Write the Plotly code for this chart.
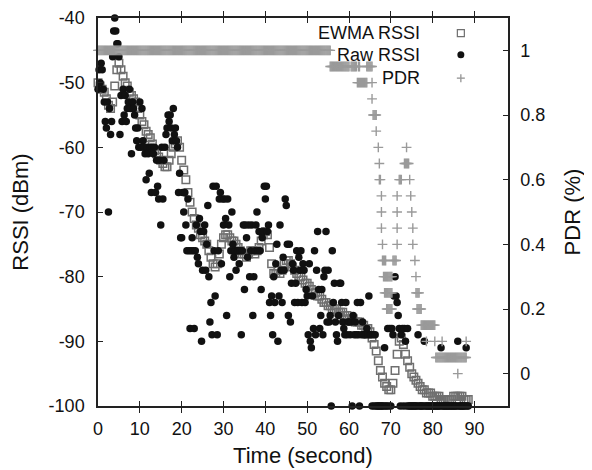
import numpy as np
import plotly.graph_objects as go

# ---------------- data ----------------
# EWMA RSSI, sampled every 0.5 s from t = 0 to 88.5 s
ewma_step = 0.5
ewma_rssi = [
    -50, -50.5, -51, -51.5, -52.5, -53.5, -54, -53, -50.5, -48,
    -47, -48, -49, -50, -50.5, -51.5, -52, -52.5, -53, -54,
    -55, -56, -56.5, -57.5, -58, -58.5, -59.5, -60.5, -61, -61.5,
    -62, -62.5, -63, -63, -62, -61, -60, -59.5, -59, -60,
    -62, -63.5, -65, -67, -68.5, -70, -71, -72, -72.5, -73.5,
    -74, -74.5, -75, -76, -77, -78, -78.5, -78, -76.5, -75,
    -74, -73.5, -73.5, -74, -74.5, -74.5, -75, -75.5, -76, -76.5,
    -76.5, -77, -76.5, -76, -76, -76.5, -76, -75.5, -74.5, -73.5,
    -73, -73.5, -75.5, -78, -79.5, -79.5, -79, -79.5, -79, -78,
    -77.5, -77.5, -78, -78.5, -79, -79.5, -80, -80, -80.5, -81,
    -81, -81.5, -82, -82.5, -82.5, -83, -83, -83.5, -84, -84,
    -84.5, -84.5, -85, -85, -85, -85.5, -85.5, -85.5, -86, -86,
    -86.5, -86.5, -86.5, -87, -87, -87, -87.5, -87.5, -88, -88,
    -88.5, -89.5, -90.5, -91.5, -93, -94.5, -95.5, -96.5, -97, -97.5,
    -97.5, -96.5, -94.5, -92, -90, -89.5, -90.5, -92, -93, -94,
    -95, -95.5, -96, -96.5, -97, -97.5, -97.5, -98, -98, -98,
    -98.5, -98.5, -98.5, -98.5, -99, -99, -99, -99, -99, -99,
    -98.5, -98.5, -98.5, -98.5, -98.5, -99, -99, -99,
]

# Raw RSSI, sampled every 0.25 s from t = 0 to 88.5 s (one row = 5 s)
raw_step = 0.25
raw_rssi = [
    -51, -48, -50, -47, -48, -51, -53, -56, -57, -53, -70, -54, -58, -56, -46, -42, -40, -42, -44, -44,
    -46, -58, -52, -56, -51, -55, -52, -56, -54, -53, -51, -54, -61, -53, -54, -55, -57, -59, -57, -60,
    -53, -60, -54, -59, -60, -61, -65, -60, -61, -64, -60, -67, -60, -61, -60, -67, -62, -66, -68, -62,
    -72, -60, -68, -62, -60, -58, -57, -55, -56, -55, -57, -59, -54, -58, -57, -59, -60, -67, -64, -74,
    -74, -67, -70, -67, -72, -76, -68, -76, -88, -76, -74, -76, -88, -76, -72, -77, -78, -71, -73, -90,
    -79, -73, -72, -79, -75, -69, -80, -87, -84, -89, -66, -76, -83, -66, -89, -76, -68, -67, -78, -68,
    -72, -68, -71, -86, -68, -72, -80, -76, -70, -75, -77, -76, -79, -76, -76, -78, -76, -89, -76, -72,
    -82, -72, -74, -77, -72, -80, -76, -72, -86, -80, -76, -72, -70, -76, -73, -76, -82, -74, -73, -66,
    -68, -66, -73, -72, -84, -86, -83, -89, -80, -84, -78, -75, -90, -83, -72, -79, -84, -77, -79, -68,
    -69, -75, -86, -75, -87, -81, -78, -79, -84, -81, -76, -84, -77, -79, -76, -84, -78, -79, -84, -82,
    -83, -89, -78, -90, -91, -83, -88, -76, -89, -79, -73, -82, -88, -86, -82, -89, -80, -79, -73, -87,
    -79, -87, -86, -100, -76, -84, -81, -87, -89, -90, -86, -81, -81, -84, -87, -88, -89, -84, -89, -87,
    -87, -89, -87, -100, -86, -89, -87, -89, -84, -89, -100, -84, -89, -87, -89, -89, -89, -88, -89, -83,
    -89, -89, -100, -89, -100, -89, -100, -100, -100, -100, -100, -100, -100, -100, -91, -100, -100, -88, -100, -88,
    -100, -88, -89, -83, -80, -83, -84, -86, -88, -100, -89, -88, -100, -88, -90, -100, -88, -100, -100, -100,
    -100, -100, -100, -100, -100, -100, -89, -100, -100, -100, -100, -100, -90, -100, -100, -100, -100, -100, -100, -100,
    -100, -100, -100, -100, -100, -100, -100, -100, -91, -100, -100, -100, -100, -100, -100, -100, -100, -100, -100, -100,
    -100, -100, -100, -100, -90, -100, -100, -100, -100, -100, -100, -100, -91, -100, -100,
]

# PDR readings as runs: (start time, end time, PDR value), sampled every 0.25 s
pdr_step = 0.25
pdr_runs = [
    (0.0, 55.5, 1.0),
    (55.5, 60.0, 0.95), (60.5, 61.75, 0.95), (62.25, 62.5, 0.95), (64.25, 65.5, 0.95),
    (62.0, 64.25, 0.9), (65.5, 65.5, 0.9),
    (65.5, 65.5, 0.85),
    (65.75, 66.5, 0.8),
    (66.5, 66.5, 0.75),
    (67.0, 67.0, 0.7),
    (67.25, 67.25, 0.65),
    (67.25, 67.5, 0.6),
    (67.75, 67.75, 0.55), (67.75, 67.75, 0.5), (67.75, 67.75, 0.45),
    (68.0, 68.0, 0.4),
    (68.0, 68.75, 0.35),
    (68.25, 70.25, 0.3),
    (68.5, 70.25, 0.25),
    (69.0, 70.25, 0.2),
    (70.5, 71.25, 0.35),
    (71.5, 71.5, 0.4), (71.5, 71.5, 0.45), (71.5, 71.5, 0.5), (71.5, 71.5, 0.55),
    (72.0, 72.5, 0.6),
    (73.25, 74.25, 0.65),
    (73.75, 73.75, 0.7),
    (74.5, 74.5, 0.6),
    (74.75, 74.75, 0.55),
    (75.0, 75.0, 0.5),
    (75.25, 75.25, 0.45), (75.25, 75.25, 0.4),
    (75.75, 75.75, 0.35),
    (76.0, 76.0, 0.3),
    (76.0, 76.75, 0.25),
    (76.25, 77.25, 0.2),
    (77.25, 80.5, 0.15),
    (78.5, 78.5, 0.1), (80.5, 80.5, 0.1), (82.25, 82.25, 0.1), (88.0, 88.0, 0.1),
    (80.75, 88.0, 0.05),
    (86.0, 86.0, 0.0),
]

x_ticks = [0, 10, 20, 30, 40, 50, 60, 70, 80, 90]
rssi_ticks = [-100, -90, -80, -70, -60, -50, -40]
rssi_tick_labels = ["-100", "-90", "-80", "-70", "-60", "-50", "-40"]
pdr_ticks = [0, 0.2, 0.4, 0.6, 0.8, 1]
pdr_tick_labels = ["0", "0.2", "0.4", "0.6", "0.8", "1"]

# ---------------- build series ----------------
ewma_t = np.arange(len(ewma_rssi)) * ewma_step
raw_t = np.arange(len(raw_rssi)) * raw_step
pdr_t, pdr_v = [], []
for a, b, v in pdr_runs:
    n = int(round((b - a) / pdr_step)) + 1
    for k in range(n):
        pdr_t.append(a + k * pdr_step)
        pdr_v.append(v)

EWMA_C = "#6f6f6f"
RAW_C = "#111111"
PDR_C = "#9a9a9a"

fig = go.Figure()
fig.add_trace(go.Scatter(
    x=ewma_t, y=ewma_rssi, mode="markers", name="EWMA RSSI",
    marker=dict(symbol="square-open", size=7.5, color=EWMA_C, line=dict(width=1.5, color=EWMA_C)),
    cliponaxis=False, showlegend=False))
fig.add_trace(go.Scatter(
    x=raw_t, y=raw_rssi, mode="markers", name="Raw RSSI",
    marker=dict(symbol="circle", size=7.5, color=RAW_C, line=dict(width=0)),
    cliponaxis=False, showlegend=False))
fig.add_trace(go.Scatter(
    x=pdr_t, y=pdr_v, mode="markers", name="PDR", yaxis="y2",
    marker=dict(symbol="cross-thin", size=7, color=PDR_C, line=dict(width=1.4, color=PDR_C)),
    cliponaxis=False, showlegend=False))

FONT = "Liberation Sans, Arial, sans-serif"
axis_common = dict(showline=True, linecolor="#222", linewidth=1.5, ticks="inside",
                   ticklen=5, tickwidth=1, tickcolor="#222", showgrid=False, zeroline=False,
                   automargin=False)

# the page body adds an 8 px offset, so the figure is sized to the visible area
fig.update_layout(
    width=584, height=462,
    margin=dict(l=90, r=84, t=10, b=64),
    paper_bgcolor="white", plot_bgcolor="white",
    font=dict(family=FONT, size=18, color="#111"),
    xaxis=dict(range=[0, 98], tickvals=x_ticks, mirror="allticks",
               ticklabelstandoff=6,
               title=dict(text="Time (second)", standoff=9), **axis_common),
    yaxis=dict(range=[-100, -40], tickvals=rssi_ticks, ticktext=rssi_tick_labels, mirror=False,
               ticklabelstandoff=8,
               title=dict(text="RSSI (dBm)", standoff=14), **axis_common),
    yaxis2=dict(range=[-0.1, 1.1], tickvals=pdr_ticks, ticktext=pdr_tick_labels,
                overlaying="y", side="right", ticklabelstandoff=7,
                title=dict(text="PDR (%)", standoff=20), **axis_common),
)

# legend drawn gnuplot-style: label then symbol
legend_items = [("EWMA RSSI", 0.961), ("Raw RSSI", 0.905), ("PDR", 0.845)]
text_x = 0.790
sym_x = 0.885
for label, yy in legend_items:
    fig.add_annotation(x=text_x, y=yy, xref="paper", yref="paper", text=label,
                       showarrow=False, xanchor="right", yanchor="middle",
                       font=dict(family=FONT, size=18, color="#111"))
# symbols
fig.add_shape(type="rect", xref="paper", yref="paper", xsizemode="pixel", ysizemode="pixel",
              xanchor=sym_x, yanchor=0.961, x0=-3.5, x1=3.5, y0=-3.5, y1=3.5,
              line=dict(color=EWMA_C, width=1.2), fillcolor="white")
fig.add_shape(type="circle", xref="paper", yref="paper", xsizemode="pixel", ysizemode="pixel",
              xanchor=sym_x, yanchor=0.905, x0=-3.5, x1=3.5, y0=-3.5, y1=3.5,
              line=dict(color=RAW_C, width=0), fillcolor=RAW_C)
fig.add_shape(type="line", xref="paper", yref="paper", xsizemode="pixel", ysizemode="pixel",
              xanchor=sym_x, yanchor=0.845, x0=-4, x1=4, y0=0, y1=0,
              line=dict(color=PDR_C, width=1.4))
fig.add_shape(type="line", xref="paper", yref="paper", xsizemode="pixel", ysizemode="pixel",
              xanchor=sym_x, yanchor=0.845, x0=0, x1=0, y0=-4, y1=4,
              line=dict(color=PDR_C, width=1.4))

fig.write_html("out.html")
